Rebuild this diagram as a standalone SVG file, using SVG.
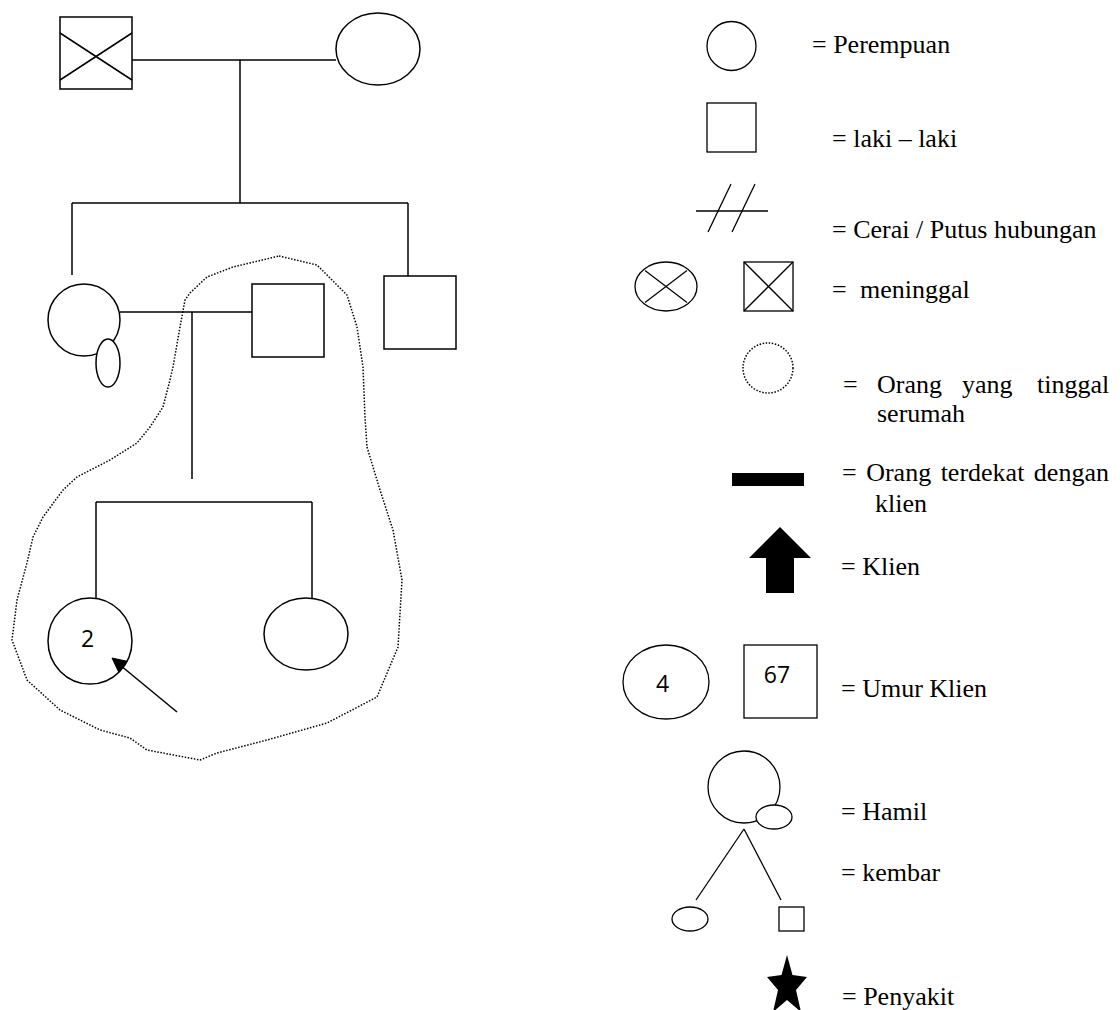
<svg xmlns="http://www.w3.org/2000/svg" width="1120" height="1010" viewBox="0 0 1120 1010">
  <style>
    .ln { stroke: #000; stroke-width: 1.5; fill: none; }
    .shape { stroke: #000; stroke-width: 1.5; fill: #fff; }
    .lg { stroke: #000; stroke-width: 1.3; fill: #fff; }
    .lgl { stroke: #000; stroke-width: 1.3; fill: none; }
    .dot { stroke: #000; stroke-width: 1.5; fill: none; stroke-dasharray: 1.5 1.6; }
    .tx { font-family: 'Liberation Serif', 'DejaVu Serif', serif; font-size: 26px; fill: #000; }
    .num { font-family: 'Open Sans', 'Liberation Sans', sans-serif; font-size: 23px; fill: #000; text-anchor: middle; }
  </style>

  <rect width="1120" height="1010" fill="#fff"/>

  <!-- household boundary -->
  <g id="household">
    <path class="dot" d="M279,256 L317,265 L347,295 L357,327 L363,367 L365,417 L367,447 L380,490 L393,530 L402,580 L398,647 L377,697 L327,723 L267,740 L217,753 L200,760 L147,750 L130,738 L100,730 L60,710 L27,680 L12,640 L17,600 L27,563 L33,537 L43,517 L63,490 L77,477 L110,460 L137,443 L150,427 L163,407 L170,380 L173,367 L180,327 L185,300 L190,293 L207,277 L233,267 Z" stroke-linejoin="round"/>
  </g>

  <!-- family members -->
  <g id="grandfather">
    <rect class="shape" x="60" y="17" width="72" height="72"/>
    <line class="ln" x1="60" y1="33" x2="132" y2="80"/>
    <line class="ln" x1="60" y1="80" x2="132" y2="33"/>
  </g>
  <g id="grandmother">
    <ellipse class="shape" cx="378" cy="49" rx="42" ry="36"/>
  </g>
  <g id="mother">
    <circle class="shape" cx="84" cy="320" r="36"/>
    <ellipse class="shape" cx="108" cy="363" rx="12" ry="24"/>
  </g>
  <g id="father">
    <rect class="shape" x="252" y="284" width="72" height="73"/>
  </g>
  <g id="uncle">
    <rect class="shape" x="384" y="276" width="72" height="73"/>
  </g>
  <g id="client">
    <ellipse class="shape" cx="90" cy="641" rx="42" ry="43"/>
    <text class="num" x="87.5" y="647">2</text>
  </g>
  <g id="sister">
    <ellipse class="shape" cx="306" cy="634" rx="42" ry="36"/>
  </g>

  <!-- connectors (drawn over the nodes so the client arrow tip stays visible) -->
  <g id="connectors">
    <line class="ln" x1="132" y1="60" x2="336" y2="60"/>
    <line class="ln" x1="240" y1="60" x2="240" y2="203"/>
    <line class="ln" x1="72" y1="203" x2="408" y2="203"/>
    <line class="ln" x1="72" y1="203" x2="72" y2="275"/>
    <line class="ln" x1="408" y1="203" x2="408" y2="276"/>
    <line class="ln" x1="120" y1="312" x2="252" y2="312"/>
    <line class="ln" x1="192" y1="312" x2="192" y2="479"/>
    <line class="ln" x1="96" y1="502" x2="312" y2="502"/>
    <line class="ln" x1="96" y1="502" x2="96" y2="598"/>
    <line class="ln" x1="312" y1="502" x2="312" y2="598"/>
    <line class="ln" x1="177" y1="712" x2="120" y2="665"/>
    <polygon points="112,658 118.6,671.9 127.2,661.3" fill="#000" stroke="#000" stroke-width="1"/>
  </g>

  <!-- legend -->
  <g id="legend-female">
    <circle class="lg" cx="731.5" cy="46" r="24.5"/>
    <text class="tx" x="812" y="53">= Perempuan</text>
  </g>
  <g id="legend-male">
    <rect class="lg" x="707" y="103" width="49" height="49"/>
    <text class="tx" x="832" y="147">= laki – laki</text>
  </g>
  <g id="legend-divorce">
    <line class="lgl" x1="696" y1="211" x2="768" y2="211"/>
    <line class="lgl" x1="708" y1="232" x2="731" y2="184"/>
    <line class="lgl" x1="732" y1="232" x2="755" y2="184"/>
    <text class="tx" x="832" y="238">= Cerai / Putus hubungan</text>
  </g>
  <g id="legend-deceased">
    <ellipse class="lg" cx="666" cy="286.5" rx="31" ry="24.5"/>
    <line class="lgl" x1="645" y1="270.5" x2="687" y2="302.5"/>
    <line class="lgl" x1="687" y1="270.5" x2="645" y2="302.5"/>
    <rect class="lg" x="744" y="262" width="49" height="49"/>
    <line class="lgl" x1="744" y1="262" x2="793" y2="311"/>
    <line class="lgl" x1="793" y1="262" x2="744" y2="311"/>
    <text class="tx" x="832" y="298">=</text>
    <text class="tx" x="860" y="298">meninggal</text>
  </g>
  <g id="legend-household">
    <circle class="dot" cx="768" cy="368" r="25" stroke-width="1.3"/>
    <text class="tx" x="843" y="393">=</text>
    <text class="tx" x="877" y="393">Orang</text>
    <text class="tx" x="962" y="393">yang</text>
    <text class="tx" x="1037" y="393">tinggal</text>
    <text class="tx" x="877" y="422">serumah</text>
  </g>
  <g id="legend-closest">
    <rect x="732" y="473" width="72" height="13" fill="#000"/>
    <text class="tx" x="842" y="481" word-spacing="3">= Orang terdekat dengan</text>
    <text class="tx" x="875" y="512">klien</text>
  </g>
  <g id="legend-client">
    <polygon points="780,527 811,558 794,558 794,593 766,593 766,558 749,558" fill="#000"/>
    <text class="tx" x="841" y="575">= Klien</text>
  </g>
  <g id="legend-age">
    <ellipse class="lg" cx="666" cy="682" rx="43" ry="37"/>
    <text class="num" x="662.5" y="692">4</text>
    <rect class="lg" x="744" y="645" width="73" height="73"/>
    <text class="num" x="777" y="683">67</text>
    <text class="tx" x="841" y="697">= Umur Klien</text>
  </g>
  <g id="legend-pregnant-twins">
    <circle class="lg" cx="744" cy="787" r="36"/>
    <ellipse class="lg" cx="774" cy="817" rx="18" ry="12"/>
    <line class="lgl" x1="744" y1="829" x2="696" y2="900"/>
    <line class="lgl" x1="744" y1="829" x2="781" y2="900"/>
    <ellipse class="lg" cx="690" cy="919" rx="18" ry="12"/>
    <rect class="lg" x="779" y="907" width="25" height="24"/>
    <text class="tx" x="841" y="820">= Hamil</text>
    <text class="tx" x="841" y="881">= kembar</text>
  </g>
  <g id="legend-disease">
    <polygon points="787,955 792.5,975 807,977 796,990 801,1012 787,1000 773,1012 778,990 767,977 781.5,975" fill="#000"/>
    <text class="tx" x="842" y="1005">= Penyakit</text>
  </g>
</svg>
